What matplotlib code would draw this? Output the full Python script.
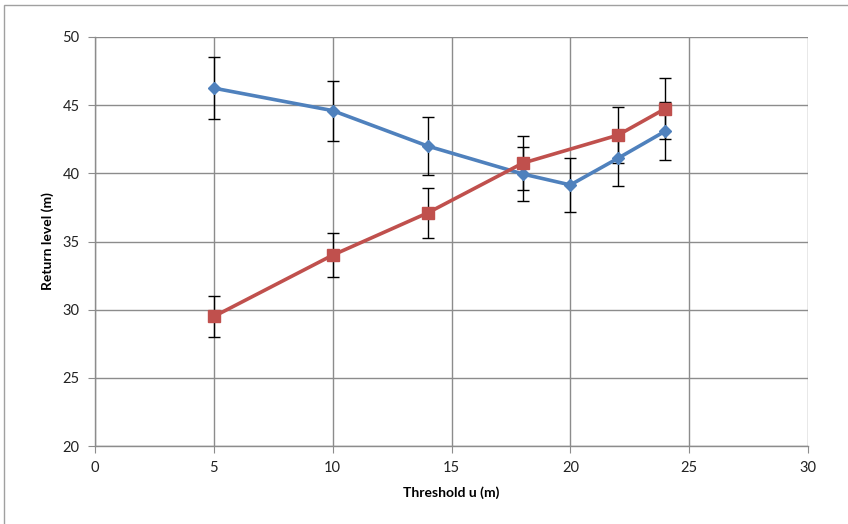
import matplotlib
matplotlib.use("Agg")
import matplotlib.pyplot as plt
from matplotlib.patches import Rectangle

plt.rcParams['font.family'] = ['Lato', 'DejaVu Sans']

# Threshold values (m)
u_blue = [5, 10, 14, 18, 20, 22, 24]
rl_blue = [46.25, 44.6, 42.0, 39.95, 39.15, 41.1, 43.1]
err_blue = [2.3, 2.2, 2.1, 2.0, 1.95, 2.0, 2.1]

u_red = [5, 10, 14, 18, 22, 24]
rl_red = [29.5, 34.0, 37.1, 40.75, 42.8, 44.75]
err_red = [1.5, 1.6, 1.85, 2.0, 2.05, 2.25]

x_ticks = [0, 5, 10, 15, 20, 25, 30]
y_ticks = [20, 25, 30, 35, 40, 45, 50]

BLUE = '#4F81BD'
RED = '#C0504D'
GRID = '#8C8C8C'

fig = plt.figure(figsize=(8.48, 5.24), dpi=100)
fig.patch.set_facecolor('white')
fig.add_artist(Rectangle((4 / 848, -0.01), 1.0, 1 - 5 / 524 + 0.01,
                         transform=fig.transFigure, fill=False,
                         edgecolor='#A0A0A0', linewidth=1.0))

ax = fig.add_axes([95 / 848, 78 / 524, (808 - 95) / 848, (446 - 37) / 524])

ax.errorbar(u_blue, rl_blue, yerr=err_blue, fmt='none', ecolor='black',
            elinewidth=1.0, capsize=4.5, capthick=1.0, zorder=3)
ax.errorbar(u_red, rl_red, yerr=err_red, fmt='none', ecolor='black',
            elinewidth=1.0, capsize=4.5, capthick=1.0, zorder=3)
ax.plot(u_blue, rl_blue, color=BLUE, linewidth=2.6, marker='D',
        markersize=6.5, markerfacecolor=BLUE, markeredgecolor=BLUE, zorder=4)
ax.plot(u_red, rl_red, color=RED, linewidth=2.6, marker='s',
        markersize=8.5, markerfacecolor=RED, markeredgecolor=RED, zorder=5)

ax.set_xlim(0, 30)
ax.set_ylim(20, 50)
ax.set_xticks(x_ticks)
ax.set_yticks(y_ticks)
ax.grid(True, color=GRID, linewidth=1.0)
ax.set_axisbelow(True)
for side in ['top', 'right']:
    ax.spines[side].set_visible(False)
for side in ['left', 'bottom']:
    ax.spines[side].set_color(GRID)
    ax.spines[side].set_linewidth(1.0)
ax.tick_params(axis='both', direction='out', length=5, color=GRID,
               labelsize=10.5, labelcolor='#222222', pad=6)

ax.set_xlabel('Threshold u (m)', fontsize=10, fontweight='bold', labelpad=8)
ax.set_ylabel('Return level (m)', fontsize=10, fontweight='bold', labelpad=6)

fig.savefig('out.png', dpi=100, facecolor='white')
